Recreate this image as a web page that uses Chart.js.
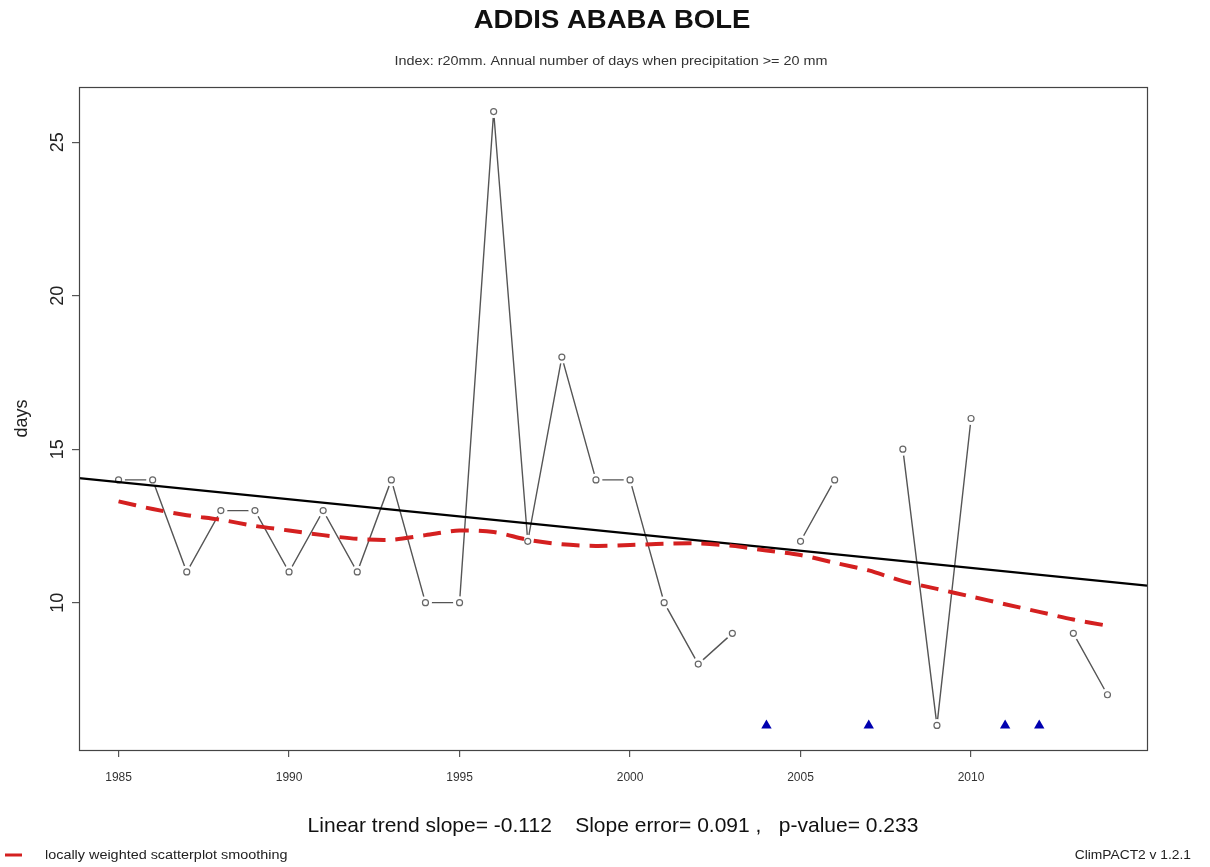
<!DOCTYPE html>
<html>
<head>
<meta charset="utf-8">
<title>ADDIS ABABA BOLE – r20mm</title>
<script src="https://cdn.jsdelivr.net/npm/chart.js@4/dist/chart.umd.min.js"></script>
<style>
  html, body { margin: 0; padding: 0; background: #fff; }
  canvas { display: block; }
</style>
</head>
<body>
<canvas id="chart" width="1210" height="867"></canvas>
<script>
// Annual count of days with precipitation >= 20 mm (r20mm), Addis Ababa Bole
const years = [1985, 1986, 1987, 1988, 1989, 1990, 1991, 1992, 1993, 1994,
               1995, 1996, 1997, 1998, 1999, 2000, 2001, 2002, 2003, 2004,
               2005, 2006, 2007, 2008, 2009, 2010, 2011, 2012, 2013, 2014];
const r20mmDays = [14, 14, 11, 13, 13, 11, 13, 11, 14, 10,
                   10, 26, 12, 18, 14, 14, 10, 8, 9, null,
                   12, 14, null, 15, 6, 16, null, null, 9, 7];

// Years with insufficient data, flagged along the bottom of the plot
const missingYears = [2004, 2007, 2011, 2012];
const missingFlagLevel = 6;

// Locally weighted scatterplot smoothing of the series
const loessYears = [1985, 1986, 1987, 1988, 1989, 1990, 1991, 1992, 1993, 1994,
                    1995, 1996, 1997, 1998, 1999, 2000, 2001, 2002, 2003, 2004,
                    2005, 2006, 2007, 2008, 2009, 2010, 2011, 2012, 2013, 2014];
const loessDays = [13.3, 13.05, 12.85, 12.7, 12.5, 12.35, 12.2, 12.08, 12.05, 12.2,
                   12.35, 12.3, 12.05, 11.9, 11.85, 11.88, 11.92, 11.93, 11.85, 11.7,
                   11.55, 11.3, 11.05, 10.7, 10.45, 10.2, 9.95, 9.7, 9.45, 9.25];

// Linear trend statistics
const trendSlope = -0.112;
const slopeError = 0.091;
const pValue = 0.233;

// Axes
const xTickValues = [1985, 1990, 1995, 2000, 2005, 2010];
const yTickValues = [10, 15, 20, 25];
const xLimits = [1983.84, 2015.16];
const yLimits = [5.2, 26.8];

const FONT = '"Liberation Sans", Arial, Helvetica, sans-serif';

// Least-squares line with the reported slope, passing through the data mean
const valid = years.map((y, i) => [y, r20mmDays[i]]).filter(p => p[1] !== null);
const meanX = valid.reduce((s, p) => s + p[0], 0) / valid.length;
const meanY = valid.reduce((s, p) => s + p[1], 0) / valid.length;
const trendAt = x => meanY + trendSlope * (x - meanX);

const seriesPoints = years.map((y, i) => ({ x: y, y: r20mmDays[i] }));

// Draws a line of text, optionally widened horizontally
function wideText(ctx, text, x, y, font, align, sx, color) {
  ctx.save();
  ctx.font = font;
  ctx.fillStyle = color;
  ctx.textAlign = align;
  ctx.textBaseline = 'middle';
  ctx.translate(x, y);
  ctx.scale(sx, 1);
  ctx.fillText(text, 0, 0);
  ctx.restore();
}

// Text and frame around the plotting region
const decorations = {
  id: 'decorations',
  afterDatasetsDraw(chart) {
    const { ctx, chartArea: a } = chart;
    ctx.save();
    ctx.strokeStyle = '#444';
    ctx.lineWidth = 1.2;
    ctx.strokeRect(a.left + 0.5, a.top + 0.5, a.right - a.left, a.bottom - a.top);
    ctx.restore();
  },
  afterDraw(chart) {
    const { ctx } = chart;
    wideText(ctx, 'ADDIS ABABA BOLE', 612, 21, 'bold 25px ' + FONT, 'center', 1.1, '#111');
    wideText(ctx, 'Index: r20mm. Annual number of days when precipitation >= 20 mm',
             611, 62, '12px ' + FONT, 'center', 1.2, '#333');
    wideText(ctx, 'Linear trend slope= ' + trendSlope.toFixed(3) +
                  '    Slope error= ' + slopeError.toFixed(3) +
                  ' ,   p-value= ' + pValue.toFixed(3),
             613, 826, '21px ' + FONT, 'center', 1.0, '#111');

    // legend entry for the smoothing curve
    ctx.save();
    ctx.strokeStyle = '#d42020';
    ctx.lineWidth = 3;
    ctx.beginPath();
    ctx.moveTo(5, 855);
    ctx.lineTo(22, 855);
    ctx.stroke();
    ctx.restore();
    wideText(ctx, 'locally weighted scatterplot smoothing', 45, 856, '12px ' + FONT, 'left', 1.2, '#222');
    wideText(ctx, 'ClimPACT2 v 1.2.1', 1191, 856, '12px ' + FONT, 'right', 1.15, '#222');
  }
};

new Chart(document.getElementById('chart'), {
  type: 'line',
  data: {
    datasets: [
      {
        label: 'r20mm',
        data: seriesPoints,
        borderColor: '#555',
        borderWidth: 1.4,
        pointRadius: 0,
        spanGaps: false,
        order: 5
      },
      {
        label: 'point gaps',
        data: seriesPoints,
        showLine: false,
        pointRadius: 6.5,
        pointBackgroundColor: '#fff',
        pointBorderWidth: 0,
        pointBorderColor: '#fff',
        order: 4
      },
      {
        label: 'r20mm points',
        data: seriesPoints,
        showLine: false,
        pointRadius: 3,
        pointBackgroundColor: 'rgba(0,0,0,0)',
        pointBorderColor: '#666',
        pointBorderWidth: 1.2,
        order: 3
      },
      {
        label: 'linear trend',
        data: xLimits.map(x => ({ x, y: trendAt(x) })),
        borderColor: '#000',
        borderWidth: 2.2,
        pointRadius: 0,
        order: 2
      },
      {
        label: 'locally weighted scatterplot smoothing',
        data: loessYears.map((y, i) => ({ x: y, y: loessDays[i] })),
        borderColor: '#d42020',
        borderWidth: 4,
        borderDash: [18, 10],
        pointRadius: 0,
        tension: 0.3,
        order: 1
      },
      {
        label: 'missing data',
        data: missingYears.map(y => ({ x: y, y: missingFlagLevel })),
        showLine: false,
        pointStyle: 'triangle',
        pointRadius: 6,
        pointBackgroundColor: '#0000b0',
        pointBorderColor: '#0000b0',
        pointBorderWidth: 0,
        order: 0
      }
    ]
  },
  options: {
    responsive: false,
    animation: false,
    events: [],
    layout: { padding: { top: 87, right: 63, bottom: 0, left: 0 } },
    plugins: {
      legend: { display: false },
      tooltip: { enabled: false },
      title: { display: false }
    },
    scales: {
      x: {
        type: 'linear',
        min: xLimits[0],
        max: xLimits[1],
        afterBuildTicks: s => { s.ticks = xTickValues.map(v => ({ value: v })); },
        afterFit: s => { s.height = 117; },
        border: { display: false },
        grid: { drawOnChartArea: false, drawTicks: true, tickLength: 7, color: '#555', lineWidth: 1.2 },
        ticks: {
          font: { family: FONT, size: 12 },
          color: '#333',
          padding: 13,
          maxRotation: 0,
          callback: v => String(v)
        }
      },
      y: {
        type: 'linear',
        min: yLimits[0],
        max: yLimits[1],
        afterBuildTicks: s => { s.ticks = yTickValues.map(v => ({ value: v })); },
        afterFit: s => { s.width = 79; },
        border: { display: false },
        grid: { drawOnChartArea: false, drawTicks: true, tickLength: 7, color: '#555', lineWidth: 1.2 },
        ticks: {
          font: { family: FONT, size: 18 },
          color: '#222',
          minRotation: 90,
          maxRotation: 90,
          crossAlign: 'center',
          padding: 4,
          callback: v => String(v)
        },
        title: {
          display: true,
          text: 'days',
          font: { family: FONT, size: 18 },
          color: '#222',
          padding: { top: 11, bottom: 0 }
        }
      }
    }
  },
  plugins: [decorations]
});
</script>
</body>
</html>
